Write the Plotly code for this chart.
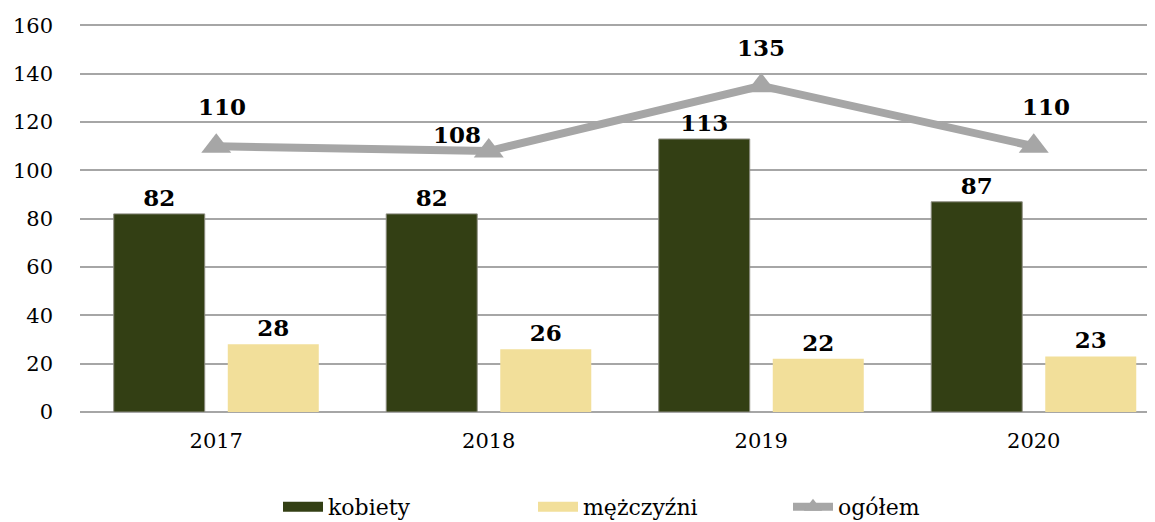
import plotly.graph_objects as go

years = ["2017", "2018", "2019", "2020"]
kobiety = [82, 82, 113, 87]
mezczyzni = [28, 26, 22, 23]
ogolem = [110, 108, 135, 110]
y_ticks = [0, 20, 40, 60, 80, 100, 120, 140, 160]

FONT = "DejaVu Serif"
label_font = dict(family=FONT, size=23, color="black", weight="bold")
DARK = "#333F14"
PALE = "#F2DF9A"
GREY = "#A6A6A6"

fig = go.Figure()

fig.add_trace(go.Bar(
    x=years, y=kobiety, name="kobiety", showlegend=False,
    marker=dict(color=DARK, line=dict(color="#8C8C80", width=1)),
    text=kobiety, textposition="outside", textfont=label_font,
    cliponaxis=False,
))
fig.add_trace(go.Bar(
    x=years, y=mezczyzni, name="mężczyźni", showlegend=False,
    marker=dict(color=PALE, line=dict(width=0)),
    text=mezczyzni, textposition="outside", textfont=label_font,
    cliponaxis=False,
))
fig.add_trace(go.Scatter(
    x=years, y=ogolem, name="ogółem", showlegend=False,
    mode="lines+markers",
    line=dict(color=GREY, width=8),
    marker=dict(symbol="triangle-up", size=26, color=GREY),
    cliponaxis=False,
))

# legend entries (thick lines give rectangular swatches like the original)
fig.add_trace(go.Scatter(x=[None], y=[None], mode="lines", name="kobiety",
                         line=dict(color=DARK, width=15)))
fig.add_trace(go.Scatter(x=[None], y=[None], mode="lines", name="mężczyźni",
                         line=dict(color=PALE, width=15)))
fig.add_trace(go.Scatter(x=[None], y=[None], mode="lines+markers", name="ogółem",
                         line=dict(color=GREY, width=8),
                         marker=dict(symbol="triangle-up", size=16, color=GREY)))

# labels of the total line
shifts = [(6, 40), (-32, 17), (0, 38), (12, 40)]
for i, (v, (dx, dy)) in enumerate(zip(ogolem, shifts)):
    fig.add_annotation(x=i, y=v, xref="x", yref="y", text=str(v), showarrow=False,
                       xshift=dx, yshift=dy, font=label_font)

# page body has an 8px margin, so the figure is made 8px smaller
fig.update_layout(
    width=1147, height=514,
    margin=dict(l=72, r=0, t=15, b=110, autoexpand=False),
    plot_bgcolor="white", paper_bgcolor="white",
    font=dict(family=FONT, size=21, color="black"),
    barmode="group", bargap=0.163, bargroupgap=0.202,
    showlegend=True,
    legend=dict(
        orientation="h", x=0.54, xanchor="center", y=-0.19, yanchor="top",
        font=dict(family=FONT, size=22), entrywidth=200, itemwidth=40,
    ),
)
fig.update_xaxes(
    type="category", range=[-0.5, 3.445], showline=False, ticks="", automargin=False,
    tickfont=dict(family=FONT, size=21), ticklabelstandoff=14,
)
fig.update_yaxes(
    range=[0, 161], tickvals=y_ticks, showgrid=True, gridcolor=GREY, gridwidth=2,
    zeroline=True, zerolinecolor=GREY, zerolinewidth=2, ticks="", automargin=False,
    tickfont=dict(family=FONT, size=21), ticklabelstandoff=26,
)

fig.write_html("out.html")
